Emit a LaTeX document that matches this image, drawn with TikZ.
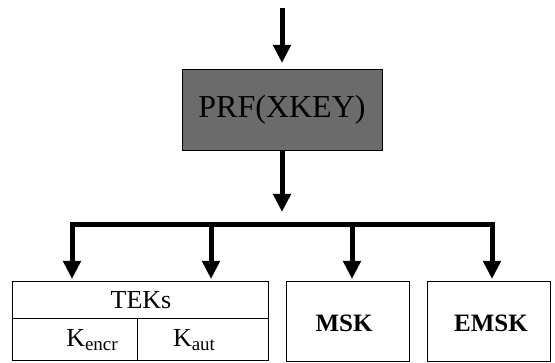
\documentclass[tikz,border=0pt]{standalone}
\usepackage{fontspec}
\setmainfont{Liberation Serif}
\usetikzlibrary{arrows.meta}
\newcommand{\ksub}[1]{K\raisebox{-0.35ex}{\fontsize{19}{19}\selectfont #1}}
\begin{document}
\begin{tikzpicture}[x=1pt,y=-1pt,
  box/.style={draw,line width=1pt,inner sep=0pt},
  arr/.style={line width=5pt,-{Triangle[width=17pt,length=18pt]}},
  big/.style={font=\fontsize{26}{28}\selectfont}]
\useasboundingbox (0,0) rectangle (555,363);
% key generator
\node[box,fill=black!58,minimum width=200pt,minimum height=81pt,
  font=\fontsize{32}{34}\selectfont] (prf) at (282,110) {PRF(XKEY)};
\coordinate (in) at (282,8);
\coordinate (split) at (282,212);
\draw[arr,shorten >=6pt] (in) -- (prf.north);
\draw[arr] (prf.south) -- (split);
% derived keys
\node[box,minimum width=256pt,minimum height=37pt] (teks) at (140,300.5) {};
\node[box,minimum width=125pt,minimum height=42pt] (encr) at (74.5,340) {};
\node[box,minimum width=131pt,minimum height=42pt] (aut) at (202.5,340) {};
\node[box,minimum width=123pt,minimum height=80pt] (msk) at (347.5,322) {};
\node[box,minimum width=123pt,minimum height=80pt] (emsk) at (488.5,322) {};
\node[big] (tekstxt) at (141,300) {TEKs};
\node[big] (encrtxt) at (92,340) {\ksub{encr}};
\node[big] (auttxt) at (194,340) {\ksub{aut}};
\node[big,font=\fontsize{25}{27}\selectfont\bfseries] (msktxt) at (344,323) {MSK};
\node[big,font=\fontsize{25}{27}\selectfont\bfseries] (emsktxt) at (491,323) {EMSK};
% fan-out
\coordinate (dA) at (72,225);   \coordinate (tA) at (72,282);
\coordinate (dB) at (211,225);  \coordinate (tB) at (211,282);
\coordinate (dC) at (352,225);  \coordinate (tC) at (352,282);
\coordinate (dD) at (492,225);  \coordinate (tD) at (492,282);
\draw[line width=5pt,{Triangle[width=17pt,length=18pt]}-{Triangle[width=17pt,length=18pt]},
  shorten <=3pt,shorten >=3pt] (tA) -- (dA) -- (dD) -- (tD);
\draw[arr,shorten >=3pt] (dB) -- (tB);
\draw[arr,shorten >=3pt] (dC) -- (tC);
\end{tikzpicture}
\end{document}
